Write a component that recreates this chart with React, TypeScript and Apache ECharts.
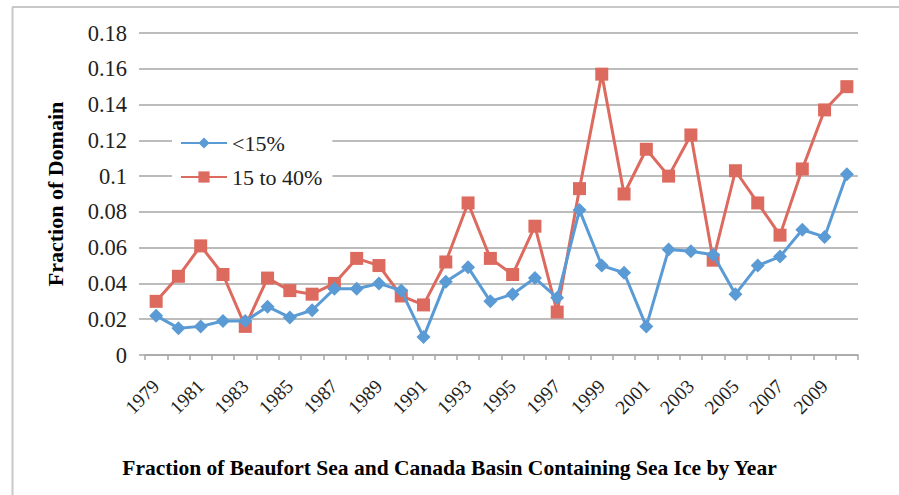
import React, { useEffect, useRef } from "react";
import * as echarts from "echarts";

const years = [
  "1979", "1980", "1981", "1982", "1983", "1984", "1985", "1986", "1987", "1988",
  "1989", "1990", "1991", "1992", "1993", "1994", "1995", "1996", "1997", "1998",
  "1999", "2000", "2001", "2002", "2003", "2004", "2005", "2006", "2007", "2008",
  "2009", "2010",
];
const below15 = [
  0.022, 0.015, 0.016, 0.019, 0.019, 0.027, 0.021, 0.025, 0.037, 0.037,
  0.040, 0.036, 0.010, 0.041, 0.049, 0.030, 0.034, 0.043, 0.032, 0.081,
  0.050, 0.046, 0.016, 0.059, 0.058, 0.056, 0.034, 0.050, 0.055, 0.070,
  0.066, 0.101,
];
const from15to40 = [
  0.030, 0.044, 0.061, 0.045, 0.016, 0.043, 0.036, 0.034, 0.040, 0.054,
  0.050, 0.033, 0.028, 0.052, 0.085, 0.054, 0.045, 0.072, 0.024, 0.093,
  0.157, 0.090, 0.115, 0.100, 0.123, 0.053, 0.103, 0.085, 0.067, 0.104,
  0.137, 0.150,
];
const seriesNames = ["<15%", "15 to 40%"];
const chartTitle = "Fraction of Beaufort Sea and Canada Basin Containing Sea Ice by Year";
const yTitle = "Fraction of Domain";

const serif = "'Liberation Serif', 'Times New Roman', serif";
const blue = "#5B9BD5";
const red = "#DD6A5E";
const gridGray = "#a6a6a6";

export default function App() {
  const ref = useRef<HTMLDivElement>(null);
  useEffect(() => {
    if (!ref.current) return;
    const chart = echarts.init(ref.current, undefined, { renderer: "svg" });
    chart.setOption({
      animation: false,
      backgroundColor: "#ffffff",
      textStyle: { fontFamily: serif },
      grid: { left: 145, right: 41, top: 33, bottom: 140, containLabel: false },
      title: {
        text: chartTitle,
        left: "center",
        top: 452,
        textStyle: { fontFamily: serif, fontSize: 21.5, fontWeight: "bold", color: "#000" },
      },
      legend: {
        orient: "vertical",
        left: 172,
        top: 128,
        itemWidth: 46,
        itemHeight: 14,
        itemGap: 12,
        padding: [4, 10, 6, 8],
        backgroundColor: "#ffffff",
        textStyle: { fontFamily: serif, fontSize: 22, color: "#222" },
        data: seriesNames,
      },
      xAxis: {
        type: "category",
        data: years,
        boundaryGap: true,
        axisLine: { show: true, lineStyle: { color: gridGray, width: 1.5 } },
        axisTick: { show: true, length: 5, interval: 0, lineStyle: { color: gridGray, width: 1.5 } },
        axisLabel: {
          interval: 1,
          rotate: 45,
          margin: 28,
          fontFamily: serif,
          fontSize: 19.5,
          color: "#222",
        },
        splitLine: { show: false },
      },
      yAxis: {
        type: "value",
        min: 0,
        max: 0.18,
        interval: 0.02,
        name: yTitle,
        nameLocation: "middle",
        nameGap: 79,
        nameRotate: 90,
        nameTextStyle: { fontFamily: serif, fontSize: 22, fontWeight: "bold", color: "#000" },
        axisLine: { show: false },
        axisTick: { show: true, length: 6, lineStyle: { color: gridGray, width: 1.5 } },
        axisLabel: {
          fontFamily: serif,
          fontSize: 22.5,
          color: "#222",
          margin: 18,
          formatter: (v: number) => (v === 0 ? "0" : String(Number(v.toFixed(2)))),
        },
        splitLine: { show: true, lineStyle: { color: gridGray, width: 1.5 } },
      },
      series: [
        {
          name: seriesNames[0],
          type: "line",
          data: below15,
          symbol: "diamond",
          symbolSize: 14,
          itemStyle: { color: blue },
          lineStyle: { color: blue, width: 3 },
          z: 3,
        },
        {
          name: seriesNames[1],
          type: "line",
          data: from15to40,
          symbol: "rect",
          symbolSize: 13,
          itemStyle: { color: red },
          lineStyle: { color: red, width: 3 },
          z: 2,
        },
      ],
      graphic: [
        {
          type: "line",
          shape: { x1: 12.5, y1: 7, x2: 12.5, y2: 495 },
          style: { stroke: "#c8c8c8", lineWidth: 2 },
          silent: true,
        },
        {
          type: "line",
          shape: { x1: 12, y1: 7, x2: 899, y2: 7 },
          style: { stroke: "#c8c8c8", lineWidth: 2 },
          silent: true,
        },
      ],
    });
    return () => chart.dispose();
  }, []);
  return (
    <div
      ref={ref}
      style={{ position: "fixed", left: 0, top: 0, width: 899, height: 495 }}
    />
  );
}
